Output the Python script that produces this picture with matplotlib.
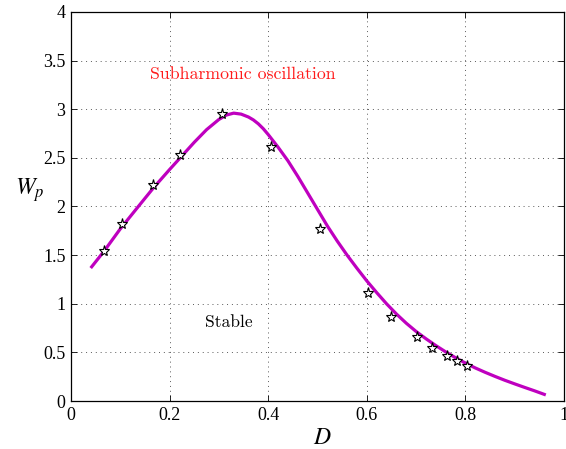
import matplotlib
matplotlib.use("Agg")
import matplotlib.pyplot as plt

plt.rcParams['mathtext.fontset'] = 'stix'

# Curve
curve_x = [0.042, 0.067, 0.10, 0.135, 0.167, 0.20, 0.225, 0.25, 0.275, 0.30, 0.315,
           0.33, 0.345, 0.36, 0.37, 0.38, 0.39, 0.40, 0.42, 0.44, 0.46, 0.48,
           0.50, 0.52, 0.54, 0.56, 0.58, 0.60, 0.62, 0.64, 0.66, 0.68, 0.70,
           0.72, 0.74, 0.76, 0.78, 0.80, 0.82, 0.84, 0.86, 0.88, 0.90, 0.92,
           0.94, 0.96]
curve_y = [1.38, 1.54, 1.77, 1.99, 2.19, 2.38, 2.52, 2.66, 2.79, 2.895, 2.94,
           2.96, 2.95, 2.92, 2.89, 2.85, 2.80, 2.74, 2.61, 2.47, 2.31, 2.14,
           1.97, 1.80, 1.645, 1.50, 1.365, 1.235, 1.115, 1.00, 0.895, 0.80, 0.715,
           0.64, 0.57, 0.505, 0.445, 0.39, 0.34, 0.295, 0.253, 0.213, 0.176, 0.14,
           0.105, 0.068]

# Star markers
pts_x = [0.067, 0.103, 0.166, 0.221, 0.306, 0.406, 0.505, 0.603, 0.650,
         0.701, 0.732, 0.762, 0.782, 0.803]
pts_y = [1.54, 1.82, 2.22, 2.53, 2.95, 2.61, 1.77, 1.11, 0.86,
         0.66, 0.55, 0.466, 0.414, 0.36]

xticks = [0, 0.2, 0.4, 0.6, 0.8, 1]
xticklabels = ['0', '0.2', '0.4', '0.6', '0.8', '1']
yticks = [0, 0.5, 1, 1.5, 2, 2.5, 3, 3.5, 4]
yticklabels = ['0', '0.5', '1', '1.5', '2', '2.5', '3', '3.5', '4']

fig = plt.figure(figsize=(5.66, 4.49), dpi=100)
ax = fig.add_axes([0.1254, 0.1069, 0.8711, 0.8664])

ax.plot(curve_x, curve_y, color='#bf00bf', lw=2.3, zorder=3)
ax.plot(pts_x, pts_y, linestyle='none', marker='*', markersize=8,
        mfc='white', mec='black', mew=0.8, zorder=4)

ax.set_xlim(0, 1)
ax.set_ylim(0, 4)
ax.set_xticks(xticks)
ax.set_xticklabels(xticklabels, fontfamily='Liberation Serif', fontsize=13)
ax.set_yticks(yticks)
ax.set_yticklabels(yticklabels, fontfamily='Liberation Serif', fontsize=13)
ax.tick_params(direction='in', length=4, width=0.6, top=True, right=True, pad=4)
ax.grid(True, linestyle=(0, (1, 4)), color='0.35', lw=0.7)
for s in ax.spines.values():
    s.set_linewidth(0.9)

ax.text(-0.083, 0.542, '$W_p$', transform=ax.transAxes, fontsize=17,
        ha='center', va='center')
ax.text(0.509, -0.093, '$D$', transform=ax.transAxes, fontsize=17,
        ha='center', va='center')

ax.text(0.349, 3.36, 'Subharmonic oscillation', color='#ff1a1a',
        fontfamily='cmr10', fontsize=12.8, ha='center', va='center')
ax.text(0.32, 0.81, 'Stable', color='black',
        fontfamily='cmr10', fontsize=12.6, ha='center', va='center')

fig.savefig('out.png', dpi=100)
